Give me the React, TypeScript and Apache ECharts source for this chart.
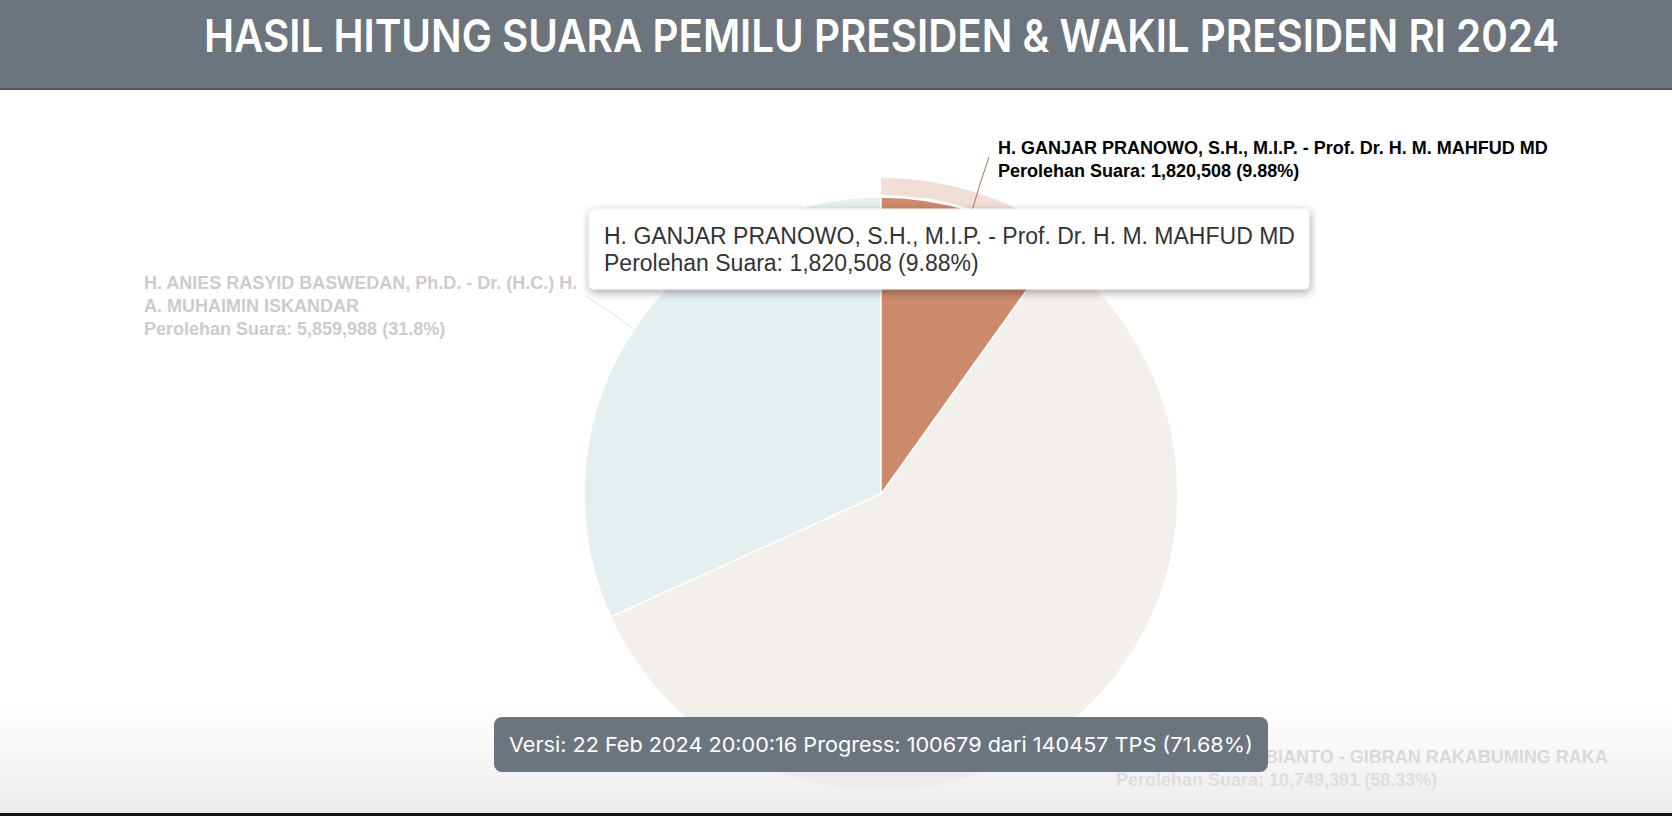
import React, { useEffect, useRef } from "react";
import * as echarts from "echarts";

// ---- data ----
const candidateNames = [
  "H. ANIES RASYID BASWEDAN, Ph.D. - Dr. (H.C.) H. A. MUHAIMIN ISKANDAR",
  "H. PRABOWO SUBIANTO - GIBRAN RAKABUMING RAKA",
  "H. GANJAR PRANOWO, S.H., M.I.P. - Prof. Dr. H. M. MAHFUD MD",
];
const labelNames = [
  "H. ANIES RASYID BASWEDAN, Ph.D. - Dr. (H.C.) H.\nA. MUHAIMIN ISKANDAR",
  "H. PRABOWO SUBIANTO - GIBRAN RAKABUMING RAKA",
  "H. GANJAR PRANOWO, S.H., M.I.P. - Prof. Dr. H. M. MAHFUD MD",
];
const votes = [5859988, 10749391, 1820508];
const sliceColors = ["#e6eff0", "#f3efea", "#cd8a6b"];
const labelColors = ["#cccccc", "#cccccc", "#000000"];
const lineColors = ["#dde9ea", "#ece6df", "#b8704f"];
const highlighted = 2;
const titleText = "HASIL HITUNG SUARA PEMILU PRESIDEN & WAKIL PRESIDEN RI 2024";
const versionText =
  "Versi: 22 Feb 2024 20:00:16 Progress: 100679 dari 140457 TPS (71.68%)";

// ---- layout (positions of labels / decorations) ----
const CX = 881;
const CY = 494;
const R = 297;
const labelPos = [
  { x: 144, y: 271.5, line: [[634, 329], [610, 312], [586, 296]] },
  { x: 1116, y: 745.5, line: [[1070, 723], [1090, 740], [1110, 757]] },
  { x: 998, y: 136.5, line: [[972, 211], [980, 184], [989, 157]] },
];

const fmt = (v: number) => v.toLocaleString("en-US");
const total = votes.reduce((a, b) => a + b, 0);
const pct = (v: number) => Number(((v / total) * 100).toFixed(2)).toString();

function measure(text: string, font: string) {
  const c = document.createElement("canvas").getContext("2d");
  if (!c) return 1;
  c.font = font;
  return c.measureText(text).width || 1;
}

export default function App() {
  const ref = useRef<HTMLDivElement>(null);
  useEffect(() => {
    document.body.style.margin = "0";
    if (!ref.current) return;
    const chart = echarts.init(ref.current, undefined, { renderer: "svg" });

    const titleFont = "600 45px Inter";
    const titleScale = 1356 / measure(titleText, titleFont);
    const verFont = "400 20.6px Inter";
    const verScale = 744 / measure(versionText, verFont);
    const tipFont = "23px 'Liberation Sans', Arial, Helvetica, sans-serif";

    const data = votes.map((v, i) => ({
      name: candidateNames[i],
      value: v,
      itemStyle: { color: sliceColors[i] },
      label: { color: labelColors[i] },
      labelLine: { lineStyle: { color: lineColors[i] } },
    }));

    chart.setOption({
      animation: false,
      backgroundColor: "#ffffff",
      series: [
        {
          type: "pie",
          z: 1,
          center: [CX, CY],
          radius: [R + 2, R + 19],
          startAngle: 90,
          clockwise: false,
          silent: true,
          label: { show: false },
          labelLine: { show: false },
          emphasis: { disabled: true },
          data: votes.map((v, i) => ({
            name: candidateNames[i],
            value: v,
            itemStyle: {
              color: i === highlighted ? "rgba(205,138,107,0.28)" : "rgba(0,0,0,0)",
            },
          })),
        },
        {
          type: "pie",
          z: 2,
          center: [CX, CY],
          radius: R,
          startAngle: 90,
          clockwise: false,
          emphasis: { disabled: true },
          itemStyle: { borderColor: "#ffffff", borderWidth: 1.5 },
          label: {
            show: true,
            position: "outside",
            fontFamily: "'Liberation Sans', Arial, Helvetica, sans-serif",
            fontWeight: "bold",
            fontSize: 18,
            lineHeight: 23,
            align: "left",
            formatter: (p: any) =>
              `${labelNames[p.dataIndex]}\nPerolehan Suara: ${fmt(p.value)} (${pct(p.value)}%)`,
          },
          labelLine: { show: true, lineStyle: { width: 1 } },
          labelLayout: (params: any) => {
            const lp = labelPos[params.dataIndex];
            return {
              x: lp.x,
              y: lp.y,
              align: "left",
              verticalAlign: "top",
              labelLinePoints: lp.line,
            };
          },
          data,
        },
      ],
      graphic: [
        {
          type: "rect",
          z: 10,
          shape: { x: 0, y: 0, width: 1672, height: 88 },
          style: { fill: "#6c757d" },
        },
        {
          type: "rect",
          z: 10,
          shape: { x: 0, y: 88, width: 1672, height: 2 },
          style: { fill: "#50565c" },
        },
        {
          type: "text",
          z: 11,
          x: 204,
          y: 36,
          scaleX: titleScale,
          style: {
            text: titleText,
            font: titleFont,
            fill: "#ffffff",
            textAlign: "left",
            textVerticalAlign: "middle",
          },
        },
        // tooltip
        {
          type: "rect",
          z: 40,
          shape: { x: 589, y: 209, width: 720, height: 80, r: 4 },
          style: {
            fill: "#ffffff",
            stroke: "#f2f2f2",
            lineWidth: 1,
            shadowBlur: 8,
            shadowOffsetX: 1,
            shadowOffsetY: 3,
            shadowColor: "rgba(0,0,0,0.35)",
          },
        },
        {
          type: "text",
          z: 41,
          x: 604,
          y: 236,
          style: {
            text: candidateNames[highlighted],
            font: tipFont,
            fill: "#333333",
            textAlign: "left",
            textVerticalAlign: "middle",
          },
        },
        {
          type: "text",
          z: 41,
          x: 604,
          y: 263,
          style: {
            text: `Perolehan Suara: ${fmt(votes[highlighted])} (${pct(votes[highlighted])}%)`,
            font: tipFont,
            fill: "#333333",
            textAlign: "left",
            textVerticalAlign: "middle",
          },
        },
        // bottom fade
        {
          type: "rect",
          z: 50,
          silent: true,
          shape: { x: 0, y: 698, width: 1672, height: 115 },
          style: {
            fill: new echarts.graphic.LinearGradient(0, 0, 0, 1, [
              { offset: 0, color: "rgba(238,238,238,0)" },
              { offset: 1, color: "rgba(232,232,232,0.85)" },
            ]),
          },
        },
        {
          type: "rect",
          z: 51,
          shape: { x: 0, y: 813, width: 1672, height: 3 },
          style: { fill: "#141414" },
        },
        // version box
        {
          type: "rect",
          z: 60,
          shape: { x: 494, y: 717, width: 774, height: 55, r: 8 },
          style: { fill: "#6c757d" },
        },
        {
          type: "text",
          z: 61,
          x: 509,
          y: 745,
          scaleX: verScale,
          style: {
            text: versionText,
            font: verFont,
            fill: "#ffffff",
            textAlign: "left",
            textVerticalAlign: "middle",
          },
        },
      ],
    });
    return () => chart.dispose();
  }, []);
  return <div ref={ref} style={{ width: 1672, height: 816 }} />;
}
